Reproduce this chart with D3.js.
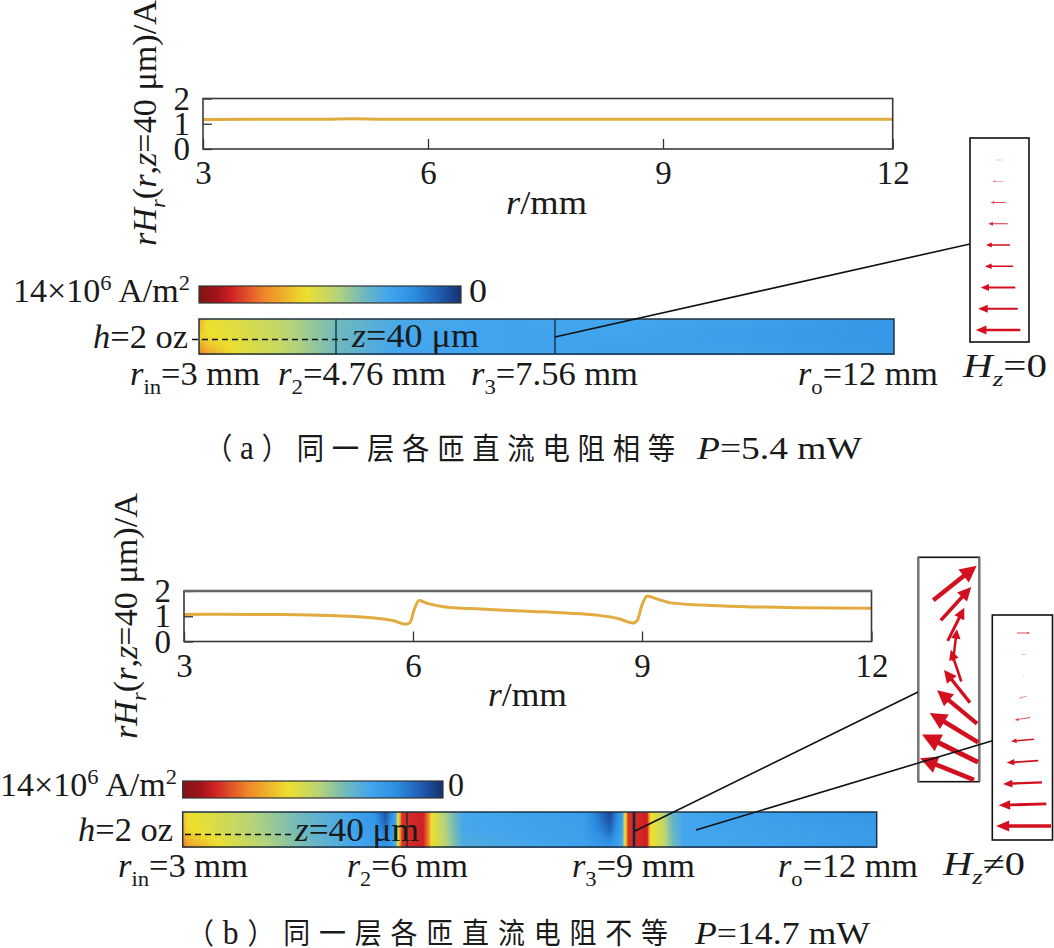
<!DOCTYPE html>
<html>
<head>
<meta charset="utf-8">
<script src="https://cdn.jsdelivr.net/npm/d3@7"></script>
<style>
  html, body { margin: 0; background: #fff; }
  svg { display: block; }
  text { fill: #1a1a1a; font-family: "Liberation Serif", serif; }
</style>
</head>
<body>
<svg id="fig" width="1054" height="948"></svg>
<script>
// Current-density colour map, J in 10^6 A/m^2
const jStops = [14, 13, 12.3, 10.5, 8.3, 6.6, 5.2, 3.9, 2.5, 1.1, 0];
const jColors = ["#7f1416", "#a3141a", "#cf2026", "#f0862a", "#ece02e", "#b5d37a", "#6fb9bd", "#42a5ee", "#2c8ee2", "#1f5aad", "#16306f"];

const xTicks = [3, 6, 9, 12];
const yTicks = [0, 1, 2];

// rH_r along z = 40 um
const lineARadius = [3, 4, 4.6, 5, 5.4, 6, 9, 12];
const lineAValue = [1.17, 1.18, 1.18, 1.195, 1.18, 1.18, 1.18, 1.18];
const lineBRadius = [3, 3.5, 4, 4.5, 5, 5.5, 5.75, 5.9, 5.96, 6.02, 6.08, 6.2, 6.4, 7, 7.5, 8, 8.4, 8.7, 8.88, 8.94, 9, 9.07, 9.2, 9.4, 10, 11, 12];
const lineBValue = [1.07, 1.08, 1.07, 1.06, 1.02, 0.93, 0.82, 0.68, 0.75, 1.3, 1.62, 1.5, 1.38, 1.27, 1.2, 1.13, 1.05, 0.9, 0.73, 0.85, 1.45, 1.8, 1.68, 1.52, 1.42, 1.34, 1.32];

// Winding current density: rows are top, middle and bottom of the copper layer
const fieldARadius = [3, 3.1, 3.5, 4, 4.76, 5.5, 7, 8.5, 10, 12];
const fieldATop = [9.8, 8.3, 7.8, 7, 5.3, 4.2, 3.8, 3.9, 3.7, 3.0];
const fieldAMid = [8.6, 8.4, 7.9, 7.1, 5.2, 4.0, 3.8, 3.8, 3.4, 3.0];
const fieldABot = [11, 9.8, 8.1, 7.3, 5.2, 3.9, 3.8, 3.6, 3.7, 3.2];

const fieldBRadius = [3, 3.06, 3.67, 4.57, 5.24, 5.55, 5.71, 5.84, 5.88, 5.93, 6.21, 6.28, 6.32, 6.48, 6.74, 8.33, 8.68, 8.84, 8.88, 8.92, 9.16, 9.2, 9.36, 9.48, 9.61, 10.44, 12];
const fieldBTop = [9, 8.4, 7.2, 5.2, 3.9, 3.0, 0.8, 3.6, 8.3, 12, 12.3, 10.5, 8.3, 6.6, 4, 3.4, 0.5, 3.6, 8.3, 12, 12.3, 8.5, 6.8, 4.8, 3.9, 3.6, 3.0];
const fieldBMid = [9.5, 8.5, 7.2, 5.2, 3.9, 3.2, 1.8, 3.9, 8.3, 12, 12.3, 10.5, 8.3, 6.8, 4, 3.5, 1.4, 3.9, 8.3, 12, 12.3, 8.5, 7, 5, 3.9, 3.7, 3.3];
const fieldBBot = [11, 10, 7.8, 5.5, 4.1, 3.6, 3, 4.1, 8.3, 12, 12.3, 10.5, 8.3, 7, 4.4, 3.7, 3, 4.1, 8.3, 12, 12.3, 8.5, 7.2, 5.2, 4, 3.9, 3.3];

// Quiver samples: field components per arrow, top of the layer first
const quiverAHr = [-3, -5.3, -7.3, -9.7, -12, -14.2, -17.3, -19.8, -22.3];
const quiverAHz = [0, 0, 0, 0, 0, 0, 0, 0, 0];
const quiverAOffset = [0, -1, -1, -1, -1, 0, -1, -1, -1];

const quiverB1Hr = [21.7, 15.2, 8.3, 2, -5.3, -13, -20, -24.2, -28, -27];
const quiverB1Hz = [17.3, 16.7, 16.5, 15.8, 15.8, 16.3, 16.7, 14.7, 13.8, 10.8];
const quiverB1Offset = [0, 1, 1, 0, 1, 2, 2, -1, -5, -8];

const quiverB2Hr = [6.7, -2, -0.7, -4, -7.8, -11.5, -15.8, -19.5, -23.8, -27.5];
const quiverB2Hz = [0, 0, 0, -1.2, -1.2, -1, -1, -0.8, -0.7, 0];
const quiverB2Offset = [0, 0, 0, -1, -1, -1, -1, -1, -1, 0];

const svg = d3.select("#fig");
const colormap = d3.scaleLinear().domain(jStops).range(jColors).clamp(true);
const serif = '"Liberation Serif", serif';
const cjk = '"Noto Sans CJK SC", sans-serif';

// Text runs with optional italics and sub/superscripts, fitted to a set width
function label(x, base, width, runs, opts = {}) {
  const size = opts.size || 33;
  const rot = opts.rotate ? " rotate(-90)" : "";
  const t = svg.append("text").attr("font-size", size).attr("transform", `translate(${x},${base})${rot}`);
  if (opts.spacing) t.style("letter-spacing", opts.spacing + "px");
  if (opts.family) t.style("font-family", opts.family);
  let shift = 0;
  runs.forEach(r => {
    const run = typeof r === "string" ? { s: r } : r;
    const target = run.sub ? size * 0.27 : run.sup ? -size * 0.36 : 0;
    const ts = t.append("tspan").text(run.s).attr("dy", target - shift);
    if (run.i) ts.attr("font-style", "italic");
    if (run.sub || run.sup) ts.attr("font-size", size * 0.66);
    if (run.size) ts.attr("font-size", run.size);
    if (run.fam) ts.style("font-family", run.fam);
    shift = target;
  });
  if (width) {
    const k = width / t.node().getComputedTextLength();
    t.attr("transform", `translate(${x},${base})${rot} scale(${k},1)`);
  }
  return t;
}

function yTitle(xBase, yStart, len) {
  label(xBase, yStart, len, [{ s: "r", i: 1 }, { s: "H", i: 1 }, { s: "r", i: 1, sub: 1 }, "(", { s: "r", i: 1 }, ",", { s: "z", i: 1 }, "=40 μm)/A"], { rotate: 1 });
}

function linePlot(cfg) {
  const x = d3.scaleLinear().domain(xTicks).range(cfg.xRange);
  const y = d3.scaleLinear().domain([0, 2]).range([cfg.bottom, cfg.top]);
  const g = svg.append("g");
  const axisX = g.append("g").attr("transform", `translate(0,${cfg.bottom})`)
    .call(d3.axisBottom(x).tickValues(xTicks).tickSize(-10).tickPadding(12).tickFormat(d3.format("d")));
  const axisY = g.append("g").attr("transform", `translate(${cfg.xRange[0]},0)`)
    .call(d3.axisLeft(y).tickValues(yTicks).tickSize(-9).tickPadding(13).tickFormat(d3.format("d")));
  [axisX, axisY].forEach(a => {
    a.select(".domain").remove();
    a.attr("font-family", null).attr("font-size", null);
    a.selectAll("text").attr("font-size", 33).style("font-family", serif).attr("fill", "#1a1a1a");
    a.selectAll("line").attr("stroke", "#333").attr("stroke-width", 1.3);
  });
  g.append("path")
    .attr("d", d3.line().x((d, i) => x(cfg.radius[i])).y(d => y(d)).curve(d3.curveMonotoneX)(cfg.value))
    .attr("fill", "none").attr("stroke", "#e2ab3f").attr("stroke-width", 3);
  g.append("rect")
    .attr("x", cfg.xRange[0]).attr("y", cfg.top)
    .attr("width", cfg.xRange[3] - cfg.xRange[0]).attr("height", cfg.bottom - cfg.top)
    .attr("fill", "none").attr("stroke", "#3a3a3a").attr("stroke-width", 1.6);
  if (cfg.topBand) {
    g.append("line").attr("x1", cfg.xRange[0]).attr("x2", cfg.xRange[3])
      .attr("y1", cfg.top).attr("y2", cfg.top).attr("stroke", "#666").attr("stroke-width", 2.6);
  }
}

function colorBar(x0, x1, y0, y1) {
  const id = "bar" + Math.round(x0);
  const grad = svg.append("defs").append("linearGradient").attr("id", id);
  const t = d3.scaleLinear().domain([14, 0]).range([0, 1]);
  grad.selectAll("stop").data(jStops).join("stop")
    .attr("offset", d => t(d)).attr("stop-color", d => colormap(d));
  svg.append("rect").attr("x", x0).attr("y", y0).attr("width", x1 - x0).attr("height", y1 - y0)
    .attr("fill", `url(#${id})`).attr("stroke", "#333").attr("stroke-width", 1.2);
}

function heatStrip(cfg) {
  const x = d3.scaleLinear().domain(cfg.knots).range(cfg.pixels);
  const z = d3.scaleLinear().domain([0, 1]).range([cfg.y0, cfg.y1]);
  const rows = cfg.rows.map(row => d3.scaleLinear().domain(cfg.radius).range(row));
  const rowPos = rows.map((_, i) => i / (rows.length - 1));
  const step = 3;
  const cells = [];
  d3.range(cfg.pixels[0], cfg.pixels[cfg.pixels.length - 1], 1).forEach(px => {
    d3.range(cfg.y0, cfg.y1, step).forEach(py => {
      const r = x.invert(px + 0.5);
      const zeta = z.invert(py + step / 2);
      const j = d3.scaleLinear().domain(rowPos).range(rows.map(s => s(r)))(zeta);
      cells.push({ px, py, j });
    });
  });
  svg.append("g").attr("shape-rendering", "crispEdges").selectAll("rect").data(cells).join("rect")
    .attr("x", d => d.px).attr("y", d => d.py).attr("width", 1.2).attr("height", step + 0.2)
    .attr("fill", d => colormap(d.j));
  svg.append("rect").attr("x", cfg.pixels[0]).attr("y", cfg.y0)
    .attr("width", cfg.pixels[cfg.pixels.length - 1] - cfg.pixels[0]).attr("height", cfg.y1 - cfg.y0)
    .attr("fill", "none").attr("stroke", "#1f3244").attr("stroke-width", 1.5);
  cfg.dividers.forEach(d => {
    svg.append("line").attr("x1", x(d.r)).attr("x2", x(d.r)).attr("y1", cfg.y0).attr("y2", cfg.y1)
      .attr("stroke", "#14283a").attr("stroke-width", d.w);
  });
  svg.append("line").attr("x1", cfg.dash[0]).attr("x2", cfg.dash[1]).attr("y1", cfg.dashY).attr("y2", cfg.dashY)
    .attr("stroke", "#111").attr("stroke-width", 1.4).attr("stroke-dasharray", "6 4");
}

function quiver(cfg) {
  const vec = d3.scaleLinear().domain([0, 10]).range([0, 20]);
  const n = cfg.hr.length;
  const yPos = d3.scaleLinear().domain([0, n - 1]).range(cfg.yRange);
  const [shaftK, headL, headW] = cfg.head;
  const mags = cfg.hr.map((h, i) => Math.hypot(h, cfg.hz[i]));
  const fade = d3.scaleLinear().domain([0, 6, 12]).range([0.3, 0.7, 1]).clamp(true);
  const g = svg.append("g");
  g.selectAll("path").data(cfg.hr).join("path")
    .attr("d", (h, i) => {
      const L = vec(mags[i]);
      const s = Math.max(shaftK * L, 0.7) / 2, hl = headL * L, hw = headW * L / 2;
      return d3.line()([[-L / 2, -s], [L / 2 - hl, -s], [L / 2 - hl, -hw], [L / 2, 0], [L / 2 - hl, hw], [L / 2 - hl, s], [-L / 2, s]]) + "Z";
    })
    .attr("transform", (h, i) => {
      const ang = Math.atan2(-cfg.hz[i], h) * 180 / Math.PI;
      return `translate(${cfg.xMid + cfg.offset[i]},${yPos(i)}) rotate(${ang})`;
    })
    .attr("fill", "#d3101f")
    .attr("opacity", (h, i) => fade(mags[i]));
}

function insetBox(x0, x1, y0, y1, side) {
  svg.append("rect").attr("x", x0).attr("y", y0).attr("width", x1 - x0).attr("height", y1 - y0)
    .attr("fill", "#fff").attr("stroke", "#111").attr("stroke-width", 1.6);
  if (side) {
    [x0, x1].forEach(v => svg.append("line").attr("x1", v).attr("x2", v).attr("y1", y0).attr("y2", y1)
      .attr("stroke", side).attr("stroke-width", 2.4));
  }
}

function leader(a, b) {
  svg.append("line").attr("x1", a[0]).attr("y1", a[1]).attr("x2", b[0]).attr("y2", b[1])
    .attr("stroke", "#111").attr("stroke-width", 1.6);
}

/* ---------- upper case: equal DC resistance ---------- */
linePlot({ xRange: [203, 428, 663, 892.7], top: 98.5, bottom: 149, radius: lineARadius, value: lineAValue });
yTitle(156, 246, 246);
label(506, 214, 81, [{ s: "r", i: 1 }, "/mm"]);

colorBar(199, 461, 286, 303);
label(13, 302, 177, ["14×10", { s: "6", sup: 1 }, " A/m", { s: "2", sup: 1 }]);
label(469, 302, 18, ["0"]);

heatStrip({
  knots: [3, 4.76, 7.56, 12], pixels: [199, 336, 555, 894], y0: 319, y1: 354,
  radius: fieldARadius, rows: [fieldATop, fieldAMid, fieldABot],
  dividers: [{ r: 4.76, w: 1.3 }, { r: 7.56, w: 1.3 }],
  dash: [192, 350], dashY: 339.5
});
label(93, 348, 95, [{ s: "h", i: 1 }, "=2 oz"]);
label(352, 347, 127, [{ s: "z", i: 1 }, "=40 μm"]);
label(130, 385, 130, [{ s: "r", i: 1 }, { s: "in", sub: 1 }, "=3 mm"]);
label(278, 385, 168, [{ s: "r", i: 1 }, { s: "2", sub: 1 }, "=4.76 mm"]);
label(471, 385, 167, [{ s: "r", i: 1 }, { s: "3", sub: 1 }, "=7.56 mm"]);
label(798, 385, 140, [{ s: "r", i: 1 }, { s: "o", sub: 1 }, "=12 mm"]);

insetBox(970, 1029, 138, 342);
quiver({ hr: quiverAHr, hz: quiverAHz, offset: quiverAOffset, xMid: 999, yRange: [160, 330], head: [0.055, 0.24, 0.2] });
leader([555, 337], [970, 244]);
label(963, 377, 84, [{ s: "H", i: 1 }, { s: "z", i: 1, sub: 1 }, "=0"]);

label(205, 459, 478, ["（", { s: "a", fam: serif, size: 34 }, "）同一层各匝直流电阻相等"], { size: 30, spacing: 8.5, family: cjk });
label(697, 459, 165, [{ s: "P", i: 1 }, "=5.4 mW"], { size: 31 });

/* ---------- lower case: unequal DC resistance ---------- */
linePlot({ xRange: [184, 413, 642, 871.5], top: 591, bottom: 641.5, radius: lineBRadius, value: lineBValue, topBand: true });
yTitle(137, 739, 246);
label(488, 706, 79, [{ s: "r", i: 1 }, "/mm"]);

colorBar(182.7, 443, 781, 798);
label(0, 796, 177, ["14×10", { s: "6", sup: 1 }, " A/m", { s: "2", sup: 1 }]);
label(448, 796, 16, ["0"]);

heatStrip({
  knots: xTicks, pixels: [182.7, 407, 634, 876.7], y0: 812, y1: 847,
  radius: fieldBRadius, rows: [fieldBTop, fieldBMid, fieldBBot],
  dividers: [{ r: 6, w: 1.2 }, { r: 9, w: 2.6 }],
  dash: [185, 293], dashY: 834.5
});
label(78, 841, 95, [{ s: "h", i: 1 }, "=2 oz"]);
label(295, 841, 124, [{ s: "z", i: 1 }, "=40 μm"]);
label(118, 877, 130, [{ s: "r", i: 1 }, { s: "in", sub: 1 }, "=3 mm"]);
label(347, 877, 121, [{ s: "r", i: 1 }, { s: "2", sub: 1 }, "=6 mm"]);
label(572, 877, 123, [{ s: "r", i: 1 }, { s: "3", sub: 1 }, "=9 mm"]);
label(778, 877, 140, [{ s: "r", i: 1 }, { s: "o", sub: 1 }, "=12 mm"]);

insetBox(918.3, 979.3, 557.3, 781.7, "#777");
quiver({ hr: quiverB1Hr, hz: quiverB1Hz, offset: quiverB1Offset, xMid: 955, yRange: [583, 769], head: [0.08, 0.3, 0.3] });
insetBox(992.3, 1052.5, 615, 840);
quiver({ hr: quiverB2Hr, hz: quiverB2Hz, offset: quiverB2Offset, xMid: 1023.5, yRange: [633, 826], head: [0.06, 0.24, 0.2] });
leader([635, 831], [918, 692]);
leader([696, 830], [992.3, 740.7]);
label(943, 875, 82, [{ s: "H", i: 1 }, { s: "z", i: 1, sub: 1 }, "≠0"]);

label(187, 943.5, 490, ["（", { s: "b", fam: serif, size: 34 }, "）同一层各匝直流电阻不等"], { size: 29, spacing: 9.5, family: cjk });
label(695, 943.5, 175, [{ s: "P", i: 1 }, "=14.7 mW"], { size: 31 });
</script>
</body>
</html>
